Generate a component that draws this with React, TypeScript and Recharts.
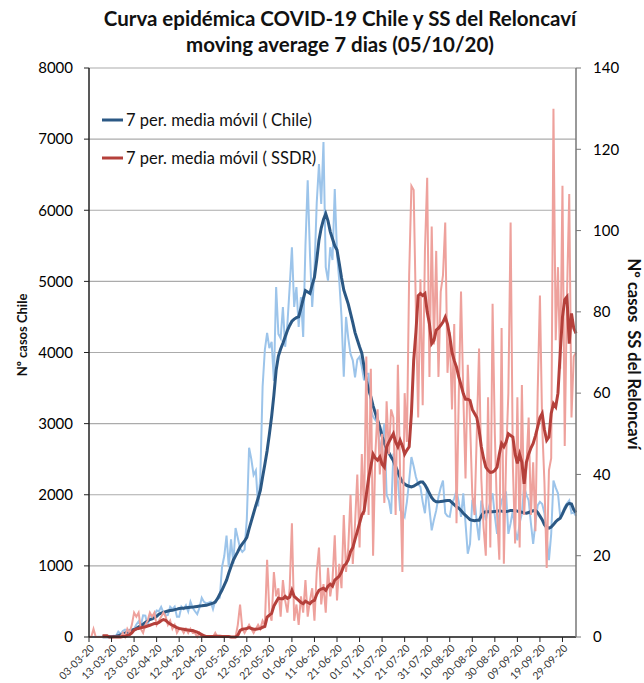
import React from 'react';
import { LineChart, Line, XAxis, YAxis, CartesianGrid } from 'recharts';

// ---------- data ----------
const START_DAY = Date.UTC(2020, 2, 3); // 03-03-20
const N_DAYS = 217; // 03-03-20 .. 05-10-20

const dates: string[] = [];
for (let i = 0; i < N_DAYS; i++) {
  const d = new Date(START_DAY + i * 86400000);
  const dd = String(d.getUTCDate()).padStart(2, '0');
  const mm = String(d.getUTCMonth() + 1).padStart(2, '0');
  dates.push(`${dd}-${mm}-20`);
}

const chileDaily: number[] = [
  1, 2, 0, 1, 2, 2, 4, 5, 6, 10,
  10, 18, 13, 75, 45, 83, 104, 92, 103, 95,
  114, 176, 220, 164, 304, 299, 161, 310, 289, 293,
  373, 362, 424, 344, 301, 310, 426, 390, 426, 286,
  286, 426, 391, 445, 358, 496, 412, 362, 321, 410,
  552, 494, 473, 482, 494, 392, 512, 531, 552, 985,
  1138, 1427, 980, 1373, 1032, 1533, 1391, 1247, 1197, 1228,
  1658, 2660, 2502, 2278, 2340, 1836, 2260, 3520, 4038, 4276,
  4061, 4150, 3600, 4920, 4260, 4200, 4640, 4080, 4400, 4920,
  5480, 4640, 4920, 4360, 4780, 4220, 5500, 6420, 5390, 4640,
  5160, 6100, 6650, 6090, 6960, 5200, 5010, 5480, 5300, 6300,
  5390, 5010, 4500, 3660, 4500, 4200, 3980, 3890, 3650, 3900,
  3940, 3800, 3610, 3700, 3700, 3190, 3100, 3050, 3140, 2580,
  2800, 3000, 2000, 1920, 1730, 2580, 2400, 2200, 1780, 1750,
  1690, 1900, 2200, 2530, 2400, 2250, 2150, 2110, 1900, 1740,
  2110, 1800, 1500, 1650, 1780, 1970, 2100, 2200, 1740, 1700,
  1690, 1880, 1950, 2060, 1900, 1690, 2020, 1600, 1170, 1310,
  1920, 1950, 1600, 1360, 1920, 1800, 1640, 1780, 1900, 2020,
  1700, 1450, 1740, 1920, 1980, 2020, 1450, 1600, 1780, 1500,
  1360, 1600, 1740, 2110, 2000, 1920, 1600, 1310, 1600, 1850,
  1900, 1870, 1740, 1400, 1080, 1450, 2200, 2100, 2020, 1690,
  1750, 1830, 1880, 1920, 1740, 1750, 1700,
];

const chileMA: (number | null)[] = [
  null, null, null, null, null, null, 2, 2, 3, 4,
  5, 8, 11, 20, 28, 40, 55, 68, 80, 95,
  105, 118, 140, 160, 180, 205, 225, 245, 255, 270,
  290, 320, 335, 345, 355, 365, 372, 375, 385, 392,
  400, 405, 405, 410, 415, 418, 420, 425, 430, 435,
  438, 442, 445, 455, 465, 475, 490, 540, 600, 660,
  730, 800, 900, 990, 1080, 1140, 1200, 1265, 1310, 1350,
  1400, 1520, 1630, 1740, 1850, 1950, 2060, 2250, 2430, 2620,
  2850, 3100, 3400, 3750, 3950, 4050, 4130, 4220, 4310, 4380,
  4440, 4470, 4490, 4500, 4620, 4750, 4870, 4850, 4830, 4950,
  5060, 5300, 5580, 5750, 5870, 5950, 5850, 5700, 5600, 5500,
  5440, 5250, 5050, 4880, 4780, 4680, 4550, 4420, 4280, 4180,
  4080, 3990, 3800, 3610, 3480, 3380, 3250, 3150, 3050, 2950,
  2820, 2720, 2650, 2590, 2530, 2480, 2400, 2320, 2240, 2180,
  2150, 2130, 2120, 2110, 2120, 2140, 2160, 2180, 2180, 2140,
  2080, 2020, 1960, 1920, 1900, 1900, 1905, 1910, 1915, 1920,
  1920, 1890, 1860, 1830, 1810, 1780, 1740, 1710, 1680, 1650,
  1640, 1635, 1640, 1640, 1700, 1750, 1760, 1760, 1765, 1760,
  1765, 1770, 1775, 1770, 1760, 1765, 1770, 1780, 1780, 1780,
  1770, 1760, 1755, 1745, 1740, 1750, 1765, 1775, 1780, 1750,
  1700, 1650, 1580, 1540, 1530, 1545, 1580, 1620, 1650, 1670,
  1730, 1800, 1860, 1880, 1870, 1790, 1750,
];

const ssdrDaily: number[] = [
  0, 0, 2, 0, 0, 0, 0, 0, 0, 0,
  0, 0, 0, 0, 0, 1, 0, 2, 1, 3,
  6, 5, 6, 2, 1, 3, 4, 6, 5, 6,
  3, 4, 5, 6, 5, 3, 4, 2, 3, 1,
  2, 2, 1, 2, 1, 2, 1, 1, 0, 1,
  0, 0, 0, 0, 0, 0, 1, 0, 0, 0,
  0, 0, 0, 0, 0, 0, 3, 8, 2, 1,
  2, 3, 2, 1, 2, 3, 2, 4, 3, 19,
  6, 4, 16, 10, 12, 5, 14, 9, 6, 12,
  28, 4, 8, 3, 10, 6, 14, 5, 9, 12,
  4, 16, 22, 8, 13, 6, 17, 10, 14, 25,
  9, 18, 12, 30, 16, 22, 35, 18, 28, 40,
  22, 45, 30, 69, 30, 66, 20, 45, 56, 40,
  50, 33, 58, 45, 56, 54, 30, 67, 40, 16,
  60, 48, 89, 111, 110, 80, 54, 88, 57, 95,
  113, 64, 101, 72, 95, 64, 85, 89, 102, 65,
  75, 56, 77, 28, 59, 85, 60, 39, 67, 53,
  35, 30, 50, 71, 39, 27, 20, 59, 22, 82,
  50, 30, 19, 76, 18, 44, 60, 102, 42, 23,
  59, 22, 62, 30, 42, 54, 30, 43, 26, 60,
  84, 52, 38, 17, 41, 44, 130, 73, 91, 66,
  111, 47, 84, 109, 54, 69, 70,
];

const ssdrMA: (number | null)[] = [
  null, null, null, null, null, null, 0.3, 0.3, 0.3, 0,
  0, 0, 0, 0, 0, 0.1, 0.1, 0.4, 0.6, 1.0,
  1.7, 2.0, 2.1, 2.3, 2.4, 2.5, 2.7, 2.9, 3.1, 3.3,
  3.3, 3.6, 4.0, 4.3, 4.1, 3.6, 3.2, 2.9, 2.6, 2.3,
  2.1, 2.0, 1.9, 1.8, 1.7, 1.6, 1.6, 1.4, 1.2, 0.9,
  0.6, 0.3, 0.1, 0.1, 0.1, 0.1, 0.2, 0.2, 0.2, 0.1,
  0.1, 0.1, 0.1, 0, 0, 0, 0.4, 1.6, 1.9, 2.0,
  2.1, 2.3, 2.1, 1.9, 1.9, 2.0, 2.1, 2.4, 2.6, 4.9,
  5.4, 5.8, 7.6, 8.6, 9.6, 9.4, 9.4, 10, 9.5, 9.8,
  11.5, 10, 9.5, 9, 8.5, 8.2, 8.8, 8.5, 8.2, 8.8,
  9, 10.5, 11.5, 11.8, 12, 11.5, 12.5, 13, 12.5, 14,
  14.5, 15, 16, 17.5, 18, 19, 21, 22, 24, 26,
  28, 30, 31, 35, 39, 42, 45, 44, 43.5, 44.3,
  42.5, 41.8, 46.8, 48, 49, 50, 48, 46.8, 48.4, 47,
  45, 46, 46.8, 55, 68, 75, 84, 84.5, 84, 84.5,
  80, 77, 72.2, 73, 75.5, 76, 76.7, 77.5, 78.7, 77,
  74, 70, 68, 66.4, 64, 62, 59.9, 58.5, 58.5, 58.2,
  56, 55, 54, 51, 46.8, 44, 41.8, 41, 40.5, 40.6,
  41, 41.8, 45, 47.6, 46.8, 48, 50, 49.6, 49.2, 45,
  42.7, 45, 43, 37.7, 43, 45, 46.5, 47.6, 49.5, 51.7,
  54, 55, 51, 48.4, 49.2, 55, 57.4, 56.6, 60, 70,
  78.7, 83, 83.7, 72.2, 79.6, 76, 74.7,
];

const leftTicks = [0, 1000, 2000, 3000, 4000, 5000, 6000, 7000, 8000];
const rightTicks = [0, 20, 40, 60, 80, 100, 120, 140];

const titleLines = ['Curva epidémica COVID-19 Chile y SS del Reloncaví', 'moving average 7 dias (05/10/20)'];
const leftTitle = 'Nº casos Chile';
const rightTitle = 'Nº casos  SS del Reloncaví';
const legendItems = [
  { label: '7 per. media móvil ( Chile)', color: '#2b5884' },
  { label: '7 per. media móvil ( SSDR)', color: '#b5403b' },
];

const data = dates.map((date, i) => ({
  date,
  chile: chileDaily[i],
  chileMA: chileMA[i],
  ssdr: ssdrDaily[i],
  ssdrMA: ssdrMA[i],
}));

const FONT = 'Lato, "Open Sans", sans-serif';

const DateTick = (props: any) => {
  const { x, y, payload } = props;
  return (
    <g transform={`translate(${x + 3},${y + 2})`}>
      <text x={0} y={0} dy={4} textAnchor="end" transform="rotate(-45)" fontSize={10.5} fill="#333" fontFamily={FONT}>
        {payload.value}
      </text>
    </g>
  );
};

export default function App() {
  return (
    <div style={{ position: 'absolute', left: 0, top: 0, width: 644, height: 683, background: '#fff', fontFamily: FONT }}>
      <LineChart width={644} height={683} data={data} margin={{ top: 68, right: 0, bottom: 0, left: 0 }}>
        <CartesianGrid yAxisId="left" vertical={false} stroke="#ababab" strokeWidth={1.2} />
        <XAxis
          dataKey="date"
          interval={9}
          height={46}
          tick={<DateTick />}
          tickSize={5}
          tickLine={{ stroke: '#222' }}
          axisLine={{ stroke: '#222', strokeWidth: 1.5 }}
        />
        <YAxis
          yAxisId="left"
          width={89}
          domain={[0, 8000]}
          ticks={leftTicks}
          tickSize={5}
          tickMargin={11}
          tick={{ fontSize: 15, fill: '#000', fontFamily: FONT }}
          tickLine={{ stroke: '#222' }}
          axisLine={{ stroke: '#222', strokeWidth: 1.5 }}
        />
        <YAxis
          yAxisId="right"
          orientation="right"
          width={68}
          domain={[0, 140]}
          ticks={rightTicks}
          tickSize={5}
          tickMargin={12}
          tick={{ fontSize: 15, fill: '#000', fontFamily: FONT, textAnchor: 'start' }}
          tickLine={{ stroke: '#777' }}
          axisLine={{ stroke: '#777', strokeWidth: 1.5 }}
        />
        <Line yAxisId="left" dataKey="chile" stroke="#9cc4ea" strokeWidth={2} dot={false} isAnimationActive={false} />
        <Line yAxisId="left" dataKey="chileMA" stroke="#2b5884" strokeWidth={3} dot={false} isAnimationActive={false} />
        <Line yAxisId="right" dataKey="ssdr" stroke="#eea19c" strokeWidth={2} dot={false} isAnimationActive={false} />
        <Line yAxisId="right" dataKey="ssdrMA" stroke="#b5403b" strokeWidth={3} dot={false} isAnimationActive={false} />
      </LineChart>

      <div style={{ position: 'absolute', left: 0, top: 5, width: 680, textAlign: 'center', fontWeight: 700, fontSize: 20.5, lineHeight: '26px', color: '#111' }}>
        {titleLines.map((t) => (
          <div key={t}>{t}</div>
        ))}
      </div>

      <div style={{ position: 'absolute', left: 22, top: 335, transform: 'translate(-50%,-50%) rotate(-90deg)', whiteSpace: 'nowrap', fontWeight: 700, fontSize: 13, color: '#111' }}>
        {leftTitle}
      </div>
      <div style={{ position: 'absolute', left: 634, top: 354, transform: 'translate(-50%,-50%) rotate(90deg)', whiteSpace: 'pre', fontWeight: 700, fontSize: 16.5, color: '#111' }}>
        {rightTitle}
      </div>

      <div style={{ position: 'absolute', left: 102, top: 108 }}>
        {legendItems.map((it, i) => (
          <div key={it.label} style={{ display: 'flex', alignItems: 'center', height: 24, marginBottom: i === 0 ? 14 : 0 }}>
            <svg width={22} height={4} style={{ marginRight: 2 }}>
              <line x1={0} y1={2} x2={21} y2={2} stroke={it.color} strokeWidth={3} />
            </svg>
            <span style={{ fontSize: 16.5, color: '#111', whiteSpace: 'nowrap' }}>{it.label}</span>
          </div>
        ))}
      </div>
    </div>
  );
}
